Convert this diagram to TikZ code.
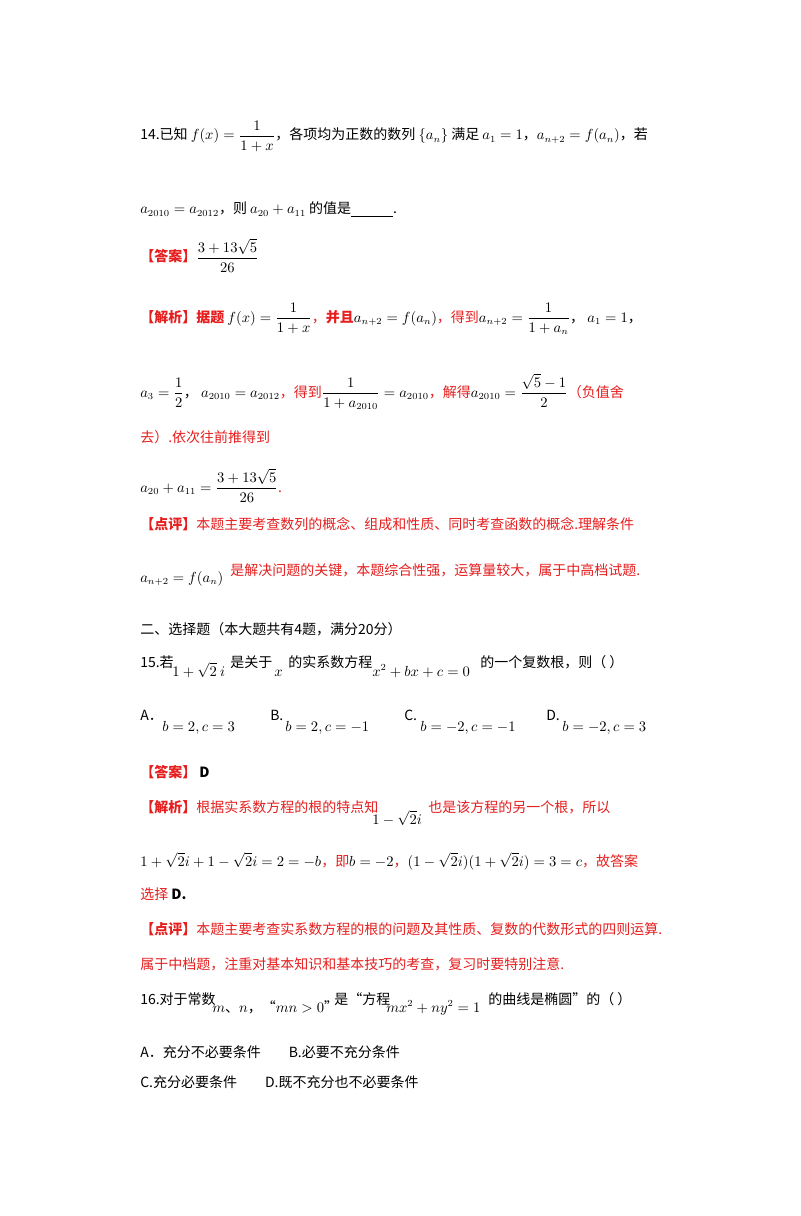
\documentclass[tikz,border=0pt]{standalone}
\usepackage{fontspec}
\usepackage{amsmath}
\newfontfamily\cjk{Noto Sans CJK SC}
\definecolor{rd}{RGB}{230,30,30}
\begin{document}
\begin{tikzpicture}[x=0.75pt,y=-0.75pt,
  t/.style={anchor=base west,inner sep=0pt,font=\fontsize{10.5}{12}\selectfont\cjk},
  r/.style={t,text=rd}]
\path[use as bounding box,fill=white] (0,0) rectangle (800,1216);
\node[t] (l1) at (140,140) {14.已知 $f(x)=\dfrac{1}{1+x}$，各项均为正数的数列 $\{a_n\}$ 满足 $a_1=1$，$a_{n+2}=f(a_n)$，若};
\node[t] (l2) at (140,214) {$a_{2010}=a_{2012}$，则 $a_{20}+a_{11}$ 的值是\underline{\hspace{3em}}.};
\node[t] (l3) at (140,262) {\textcolor{rd}{\textbf{【答案】}}$\dfrac{3+13\sqrt5}{26}$};
\node[t] (l4) at (140,322) {\textcolor{rd}{\textbf{【解析】据题}} $f(x)=\dfrac{1}{1+x}$\textcolor{rd}{，\textbf{并且}}$a_{n+2}=f(a_n)$\textcolor{rd}{，得到}$a_{n+2}=\dfrac{1}{1+a_n}$，\ $a_1=1$，};
\node[t] (l5) at (140,397) {$a_3=\dfrac12$，\ $a_{2010}=a_{2012}$\textcolor{rd}{，得到}$\dfrac{1}{1+a_{2010}}=a_{2010}$\textcolor{rd}{，解得}$a_{2010}=\dfrac{\sqrt5-1}{2}$\textcolor{rd}{（负值舍}};
\node[r] (l6) at (140,442) {去）.依次往前推得到};
\node[t] (l7) at (140,492) {$a_{20}+a_{11}=\dfrac{3+13\sqrt5}{26}$\textcolor{rd}{.}};
\node[r] (l8) at (140,529) {\textbf{【点评】}本题主要考查数列的概念、组成和性质、同时考查函数的概念.理解条件};
\node[t] (l9) at (140,582) {$a_{n+2}=f(a_n)$};
\node[r] (l9b) at (230,575) {是解决问题的关键，本题综合性强，运算量较大，属于中高档试题.};
\node[t] (l10) at (140,634) {二、选择题（本大题共有4题，满分20分）};
\node[t] (l11) at (140,667) {15.若};
\node[t] (l11a) at (172,676) {$1+\sqrt{2}\ i$};
\node[t] (l11b) at (230,667) {是关于};
\node[t] (l11c) at (274,676) {$x$};
\node[t] (l11d) at (288,667) {的实系数方程};
\node[t] (l11e) at (372,676) {$x^2+bx+c=0$};
\node[t] (l11f) at (480,667) {的一个复数根，则（ ）};
\node[t] (A) at (140,720) {A．};
\node[t] (Av) at (162,731) {$b=2,c=3$};
\node[t] (B) at (270,720) {B.};
\node[t] (Bv) at (285,731) {$b=2,c=-1$};
\node[t] (C) at (404,720) {C.};
\node[t] (Cv) at (420,731) {$b=-2,c=-1$};
\node[t] (D) at (546,720) {D.};
\node[t] (Dv) at (562,731) {$b=-2,c=3$};
\node[t] (l13) at (140,777) {\textcolor{rd}{\textbf{【答案】}}\ \textbf{D}};
\node[r] (l14) at (140,812) {\textbf{【解析】}根据实系数方程的根的特点知};
\node[t] (l14a) at (372,824) {$1-\sqrt2 i$};
\node[r] (l14b) at (428,812) {也是该方程的另一个根，所以};
\node[t] (l15) at (140,866) {$1+\sqrt2 i+1-\sqrt2 i=2=-b$\textcolor{rd}{，即}$b=-2$\textcolor{rd}{，}$(1-\sqrt2 i)(1+\sqrt2 i)=3=c$\textcolor{rd}{，故答案}};
\node[r] (l16) at (140,899) {选择 \textcolor{black}{\textbf{D.}}};
\node[r] (l17) at (140,934) {\textbf{【点评】}本题主要考查实系数方程的根的问题及其性质、复数的代数形式的四则运算.};
\node[r] (l18) at (140,969) {属于中档题，注重对基本知识和基本技巧的考查，复习时要特别注意.};
\node[t] (l19) at (140,1004) {16.对于常数};
\node[t] (l19a) at (212,1012) {$m$、$n$，“$mn>0$”};
\node[t] (l19b) at (334,1004) {是“方程};
\node[t] (l19c) at (386,1012) {$mx^2+ny^2=1$};
\node[t] (l19d) at (488,1004) {的曲线是椭圆”的（ ）};
\node[t] (l20) at (140,1057) {A．充分不必要条件\qquad B.必要不充分条件};
\node[t] (l21) at (140,1087) {C.充分必要条件\qquad D.既不充分也不必要条件};
\end{tikzpicture}
\end{document}
